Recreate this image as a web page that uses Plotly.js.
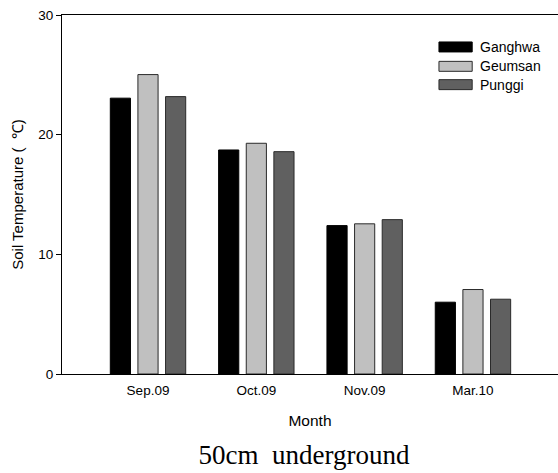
<!DOCTYPE html>
<html>
<head>
<meta charset="utf-8">
<script src="https://cdn.plot.ly/plotly-3.0.1.min.js"></script>
<style>html,body{margin:0;padding:0;background:#fff;}#chart{width:558px;height:473px;}</style>
</head>
<body>
<div id="chart"></div>
<script>
const months = ['Sep.09', 'Oct.09', 'Nov.09', 'Mar.10'];
const seriesNames = ['Ganghwa', 'Geumsan', 'Punggi'];
const ganghwa = [23.05, 18.72, 12.4, 6.0];
const geumsan = [25.02, 19.28, 12.55, 7.06];
const punggi = [23.18, 18.58, 12.9, 6.25];
const yTicks = [0, 10, 20, 30];

const fills = ['#000000', '#c0c0c0', '#606060'];
const outlines = ['#000000', '#2a2a2a', '#2a2a2a'];
const values = [ganghwa, geumsan, punggi];

const traces = values.map((v, i) => ({
  type: 'bar',
  name: seriesNames[i],
  x: months,
  y: v,
  marker: {color: fills[i], line: {color: outlines[i], width: 1}},
  showlegend: false,
  hoverinfo: 'skip'
}));

// custom legend (wide swatches)
const shapes = [];
const annotations = [];
const rowY = [0.911, 0.857, 0.806];
seriesNames.forEach((n, i) => {
  shapes.push({type: 'rect', xref: 'paper', yref: 'paper',
    x0: 0.760, x1: 0.827, y0: rowY[i] - 0.0139, y1: rowY[i] + 0.0139,
    fillcolor: fills[i], line: {color: outlines[i], width: 1}});
  annotations.push({xref: 'paper', yref: 'paper', x: 0.838, y: rowY[i],
    xanchor: 'left', yanchor: 'middle', showarrow: false, text: n,
    font: {family: 'Liberation Sans, Arial, sans-serif', size: 14, color: '#000'}});
});

const layout = {
  width: 558, height: 473,
  margin: {l: 62, r: 0, t: 15, b: 99},
  paper_bgcolor: '#fff', plot_bgcolor: '#fff',
  barmode: 'group', bargap: 0.235, bargroupgap: 0.27,
  font: {family: 'Liberation Sans, Arial, sans-serif', color: '#000', size: 13},
  title: {text: '50cm&nbsp;&nbsp;underground', xref: 'paper', x: 0.488, xanchor: 'center',
    yref: 'container', y: 0.040, yanchor: 'middle',
    font: {family: 'Liberation Serif, Times New Roman, serif', size: 27, color: '#000'}},
  xaxis: {
    type: 'category', range: [-0.794, 3.785],
    showline: true, linecolor: '#000', linewidth: 1, mirror: true,
    ticks: '', showgrid: false, zeroline: false,
    ticklabelstandoff: 4,
    tickfont: {size: 13.5},
    title: {text: 'Month', font: {size: 15.5}, standoff: 17}
  },
  yaxis: {
    range: [0, 30], tickvals: yTicks,
    showline: true, linecolor: '#000', linewidth: 1, mirror: false,
    ticks: 'outside', ticklen: 5, tickcolor: '#000',
    showgrid: false, zeroline: false,
    tickfont: {size: 13.5},
    title: {text: 'Soil Temperature (  ℃)', font: {size: 15}, standoff: 11}
  },
  shapes: shapes,
  annotations: annotations
};

Plotly.newPlot('chart', traces, layout, {displayModeBar: false, staticPlot: true});
</script>
</body>
</html>
